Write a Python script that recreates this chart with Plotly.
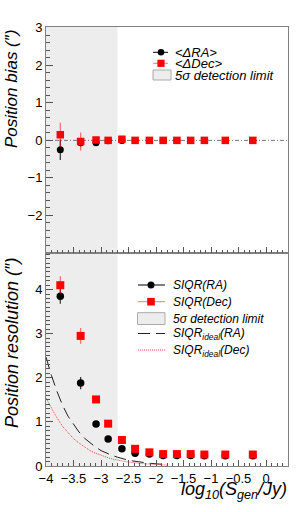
import plotly.graph_objects as go

# ---------------- data ----------------
LOG_S = [-3.74, -3.37, -3.09, -2.87, -2.62, -2.38, -2.12, -1.87, -1.62, -1.37, -1.12, -0.74, -0.24]

BIAS_RA = [-0.25, -0.06, -0.06, -0.01, 0.0, 0.0, 0.0, 0.0, 0.0, 0.0, 0.0, 0.0, 0.0]
BIAS_RA_ERR = [0.27, 0.10, 0.05, 0.03, 0.02, 0.02, 0.01, 0.01, 0.01, 0.01, 0.01, 0.01, 0.01]
BIAS_DEC = [0.15, -0.03, 0.01, 0.0, 0.03, 0.0, 0.0, 0.0, 0.0, 0.0, 0.0, 0.0, 0.0]
BIAS_DEC_ERR = [0.32, 0.24, 0.06, 0.04, 0.03, 0.02, 0.01, 0.01, 0.01, 0.01, 0.01, 0.01, 0.01]

RES_RA = [3.85, 1.88, 0.95, 0.61, 0.39, 0.29, 0.27, 0.24, 0.24, 0.24, 0.23, 0.23, 0.23]
RES_RA_ERR = [0.17, 0.14, 0.04, 0.03, 0.02, 0.02, 0.01, 0.01, 0.01, 0.01, 0.01, 0.01, 0.01]
RES_DEC = [4.10, 2.95, 1.51, 0.96, 0.59, 0.39, 0.31, 0.27, 0.27, 0.27, 0.26, 0.26, 0.26]
RES_DEC_ERR = [0.20, 0.18, 0.05, 0.04, 0.03, 0.02, 0.01, 0.01, 0.01, 0.01, 0.01, 0.01, 0.01]

IDEAL_X = [-4.0, -3.9, -3.8, -3.7, -3.6, -3.5, -3.4, -3.3, -3.2, -3.1, -3.0,
           -2.9, -2.8, -2.7, -2.6, -2.5, -2.4, -2.3, -2.2, -2.1, -2.0, -1.9, -1.8]
IDEAL_RA = [2.47, 2.05, 1.69, 1.38, 1.13, 0.94, 0.77, 0.63, 0.52, 0.43, 0.35,
            0.29, 0.24, 0.20, 0.16, 0.13, 0.11, 0.09, 0.07, 0.06, 0.05, 0.04, 0.03]
IDEAL_DEC = [1.54, 1.31, 1.09, 0.90, 0.75, 0.62, 0.52, 0.43, 0.35, 0.29, 0.24,
             0.20, 0.16, 0.13, 0.11, 0.09, 0.07, 0.06, 0.05, 0.04, 0.03, 0.025, 0.02]

DETECTION_LIMIT = -2.7
X_RANGE = [-4.0, 0.4]
BIAS_RANGE = [-3.0, 3.02]
RES_RANGE = [0.0, 4.83]

X_TICKS = [-4, -3.5, -3, -2.5, -2, -1.5, -1, -0.5, 0]
X_TICKTEXT = ["\u22124", "\u22123.5", "\u22123", "\u22122.5", "\u22122", "\u22121.5", "\u22121", "\u22120.5", "0"]
BIAS_TICKS = [-2, -1, 0, 1, 2, 3]
BIAS_TICKTEXT = ["\u22122", "\u22121", "0", "1", "2", "3"]
RES_TICKS = [0, 1, 2, 3, 4]

LEG_TOP = ["&lt;\u0394RA&gt;", "&lt;\u0394Dec&gt;", "5\u03c3 detection limit"]
LEG_BOT = ["SIQR(RA)", "SIQR(Dec)", "5\u03c3 detection limit",
           "SIQR<sub>ideal</sub>(RA)", "SIQR<sub>ideal</sub>(Dec)"]

# ---------------- geometry ----------------
W, H = 305, 512
L, R, T, B = 46, 17, 27, 46
PW, PH = W - L - R, H - T - B
SPLIT_PX = 253
split = (H - B - SPLIT_PX) / PH

def px(xp):
    return (xp - L) / PW

def py(yp):
    return (H - B - yp) / PH

FONT = "Liberation Sans, Arial, Helvetica, sans-serif"
RED = "#ff0000"
RED_ERR = "rgba(255,0,0,0.55)"
BLK = "#000000"
FRAME = "#808080"
SHADE = "#ededed"

fig = go.Figure()

# top panel: bias
fig.add_trace(go.Scatter(x=LOG_S, y=BIAS_RA, mode="markers", xaxis="x2", yaxis="y2",
                         marker=dict(symbol="circle", size=7, color=BLK),
                         error_y=dict(type="data", array=BIAS_RA_ERR, color="#333333", thickness=1.2, width=0),
                         showlegend=False))
fig.add_trace(go.Scatter(x=LOG_S, y=BIAS_DEC, mode="markers", xaxis="x2", yaxis="y2",
                         marker=dict(symbol="square", size=7.5, color=RED),
                         error_y=dict(type="data", array=BIAS_DEC_ERR, color=RED_ERR, thickness=1.2, width=0),
                         showlegend=False))

# bottom panel: resolution
fig.add_trace(go.Scatter(x=IDEAL_X, y=IDEAL_RA, mode="lines", xaxis="x", yaxis="y",
                         line=dict(color="#222222", width=1, dash="12px,6px"), showlegend=False))
fig.add_trace(go.Scatter(x=IDEAL_X, y=IDEAL_DEC, mode="lines", xaxis="x", yaxis="y",
                         line=dict(color="#ee4444", width=1, dash="1px,1px"), showlegend=False))
fig.add_trace(go.Scatter(x=LOG_S, y=RES_RA, mode="markers", xaxis="x", yaxis="y",
                         marker=dict(symbol="circle", size=7.5, color=BLK),
                         error_y=dict(type="data", array=RES_RA_ERR, color="#333333", thickness=1.2, width=0),
                         showlegend=False))
fig.add_trace(go.Scatter(x=LOG_S, y=RES_DEC, mode="markers", xaxis="x", yaxis="y",
                         marker=dict(symbol="square", size=8, color=RED),
                         error_y=dict(type="data", array=RES_DEC_ERR, color=RED_ERR, thickness=1.2, width=0),
                         showlegend=False))

shapes = []
# detection-limit shading
shapes.append(dict(type="rect", xref="x", yref="y domain", x0=X_RANGE[0], x1=DETECTION_LIMIT, y0=0, y1=1,
                   fillcolor=SHADE, line=dict(width=0), layer="below"))
shapes.append(dict(type="rect", xref="x2", yref="y2 domain", x0=X_RANGE[0], x1=DETECTION_LIMIT, y0=0, y1=1,
                   fillcolor=SHADE, line=dict(width=0), layer="below"))
# zero line in bias panel
shapes.append(dict(type="line", xref="x2 domain", yref="y2", x0=0, x1=1, y0=0, y1=0,
                   line=dict(color="#777777", width=1, dash="4px,2px,1px,2px"), layer="below"))

annotations = []

def leg_line(x0, x1, y, color, dash="solid", width=1):
    shapes.append(dict(type="line", xref="paper", yref="paper", x0=px(x0), x1=px(x1), y0=py(y), y1=py(y),
                       line=dict(color=color, width=width, dash=dash)))

def leg_circle(xc, yc, r, color):
    shapes.append(dict(type="circle", xref="paper", yref="paper", x0=px(xc - r), x1=px(xc + r),
                       y0=py(yc + r), y1=py(yc - r), fillcolor=color, line=dict(width=0)))

def leg_square(xc, yc, r, color):
    shapes.append(dict(type="rect", xref="paper", yref="paper", x0=px(xc - r), x1=px(xc + r),
                       y0=py(yc + r), y1=py(yc - r), fillcolor=color, line=dict(width=0)))

def leg_box(x0, x1, y0, y1):
    shapes.append(dict(type="rect", xref="paper", yref="paper", x0=px(x0), x1=px(x1),
                       y0=py(y1), y1=py(y0), fillcolor=SHADE, line=dict(color="#aaaaaa", width=1)))

def leg_text(x, y, text, size):
    annotations.append(dict(xref="paper", yref="paper", x=px(x), y=py(y), xanchor="left", yanchor="middle",
                            text="<i>" + text + "</i>", showarrow=False,
                            font=dict(family=FONT, size=size, color="#000000")))

# top legend
leg_line(153, 168, 52.3, BLK)
leg_circle(161, 52.3, 3.3, BLK)
leg_line(153, 168, 63.3, RED_ERR)
leg_square(161, 63.3, 3.6, RED)
leg_box(153, 171, 70, 80)
for t, yy in zip(LEG_TOP, [52.3, 63.3, 75]):
    leg_text(173, yy, t, 13)

# bottom legend
leg_line(138, 165, 285, BLK)
leg_circle(151, 285, 3.5, BLK)
leg_line(138, 165, 301.7, RED_ERR)
leg_square(151, 301.7, 3.8, RED)
leg_box(137.5, 165, 312.7, 324.5)
leg_line(138, 165, 333.5, "#222222", dash="12px,6px")
leg_line(138, 165, 350, "#ee4444", dash="1px,1px")
for t, yy in zip(LEG_BOT, [285, 301.7, 318.5, 334, 350.5]):
    leg_text(171, yy, t, 12)

# axis titles
annotations.append(dict(xref="paper", yref="paper", x=px(11), y=py(28), xanchor="center", yanchor="top",
                        textangle=-90, text="<i>Position bias (\u2033)</i>", showarrow=False,
                        font=dict(family=FONT, size=17, color="#000000")))
annotations.append(dict(xref="paper", yref="paper", x=px(12), y=py(256), xanchor="center", yanchor="top",
                        textangle=-90, text="<i>Position resolution (\u2033)</i>", showarrow=False,
                        font=dict(family=FONT, size=18, color="#000000")))
annotations.append(dict(xref="paper", yref="paper", x=px(289), y=py(490), xanchor="right", yanchor="middle",
                        text="<i>log<sub>10</sub>(S<sub>gen</sub>/Jy)</i>", showarrow=False,
                        font=dict(family=FONT, size=18, color="#000000")))

axis_common = dict(showline=True, mirror=True, linecolor=FRAME, linewidth=1, showgrid=False, zeroline=False,
                   ticks="inside", tickcolor="#555555", tickwidth=1, automargin=False,
                   tickfont=dict(family=FONT, size=13, color="#000000"))

fig.update_layout(
    width=W, height=H, autosize=False,
    margin=dict(l=L, r=R, t=T, b=B, pad=0, autoexpand=False),
    paper_bgcolor="white", plot_bgcolor="white",
    showlegend=False,
    xaxis=dict(domain=[0, 1], anchor="y", range=X_RANGE, tickvals=X_TICKS, ticktext=X_TICKTEXT,
               ticklen=6, minor=dict(dtick=0.1, tick0=0, ticks="inside", ticklen=3, tickcolor="#555555"),
               **axis_common),
    xaxis2=dict(domain=[0, 1], anchor="y2", range=X_RANGE, matches="x", tickvals=X_TICKS,
                showticklabels=False, ticklen=6,
                minor=dict(dtick=0.1, tick0=0, ticks="inside", ticklen=3, tickcolor="#555555"),
                **axis_common),
    yaxis=dict(domain=[0, split], anchor="x", range=RES_RANGE, tickvals=RES_TICKS,
               ticklen=7, minor=dict(dtick=0.1, tick0=0, ticks="inside", ticklen=4, tickcolor="#555555"),
               **axis_common),
    yaxis2=dict(domain=[split, 1], anchor="x2", range=BIAS_RANGE, tickvals=BIAS_TICKS, ticktext=BIAS_TICKTEXT,
                ticklen=7, minor=dict(dtick=0.2, tick0=0, ticks="inside", ticklen=4, tickcolor="#555555"),
                **axis_common),
    shapes=shapes,
    annotations=annotations,
)

fig.write_html("out.html", config={"displayModeBar": False, "staticPlot": True},
               post_script="document.body.style.margin='0';document.body.style.overflow='hidden';")
